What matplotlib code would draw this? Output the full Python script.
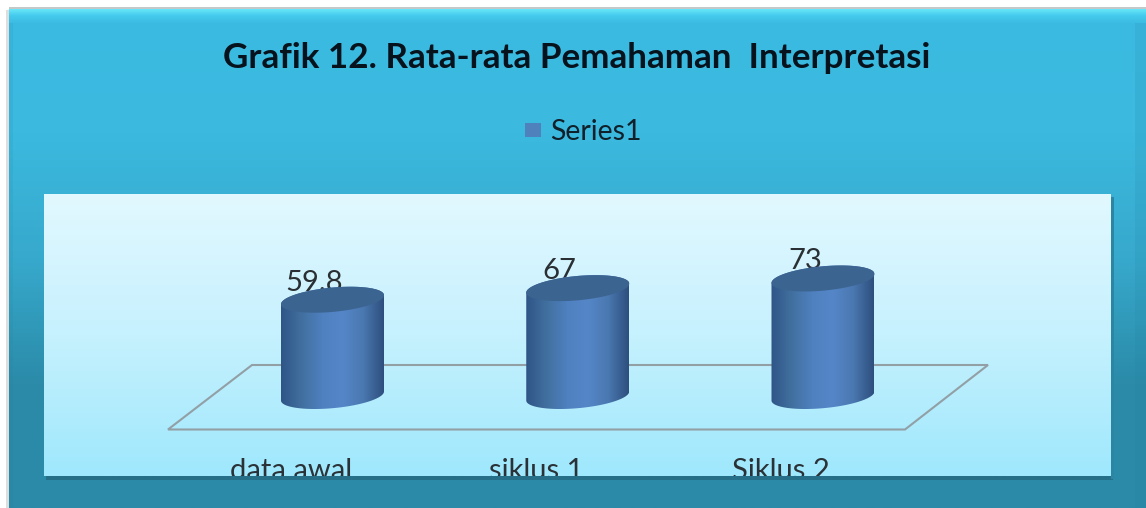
import numpy as np
import matplotlib
matplotlib.use("Agg")
import matplotlib.pyplot as plt
from matplotlib.colors import LinearSegmentedColormap
from matplotlib.patches import Polygon, PathPatch, Rectangle
from matplotlib.path import Path

categories = ['data awal', 'siklus 1', 'Siklus 2']
values = [59.8, 67, 73]
title = 'Grafik 12. Rata-rata Pemahaman  Interpretasi'
series_name = 'Series1'

W, H = 1146, 508
plt.rcParams['font.family'] = ['Lato', 'DejaVu Sans']

fig = plt.figure(figsize=(W / 100, H / 100), dpi=100, facecolor='white')


def vgrad(ax, x0, x1, y0, y1, colors, z):
    # vertical gradient between pixel rows y0 (top) and y1 (bottom)
    cm = LinearSegmentedColormap.from_list('g', colors)
    ax.imshow(np.linspace(0, 1, 256)[:, None], extent=(x0, x1, y1, y0),
              cmap=cm, aspect='auto', zorder=z, interpolation='bilinear')


# background layer, in pixels
bg = fig.add_axes([0, 0, 1, 1])
vgrad(bg, 9, W, 9, H, ['#3cbbe2', '#3bb9df', '#37a9cc', '#2b8ba9', '#2b8aa8'], 1)
# bevels of the frame
vgrad(bg, 9, W, 8, 23, ['#70ecfb', '#45cbee', '#3cbbe2'], 2)
bg.add_patch(Rectangle((9, 23), 4, H, fc='#1f7f9e', ec='none', alpha=0.12, zorder=2))
bg.add_patch(Rectangle((1135, 23), 11, H, fc='#1f7f9e', ec='none', alpha=0.14, zorder=2))
bg.add_patch(Rectangle((6, 10), 3, H, fc='#dedede', ec='none', zorder=1))
bg.add_patch(Rectangle((9, 7), W, 1.5, fc='#c4c8c8', ec='none', zorder=3))
# panel and its shadow
bg.add_patch(Rectangle((46, 476), 1067, 3.5, fc='#256f88', ec='none', zorder=3))
bg.add_patch(Rectangle((1111, 197), 2.5, 282, fc='#2a86a3', ec='none', zorder=3))
vgrad(bg, 44, 1111, 194, 476, ['#e2f8ff', '#c6f1fe', '#9fe8fd'], 4)
# floor of the 3D chart
bg.add_patch(Polygon([(252, 365), (988, 365), (905, 429.5), (168, 429.5)], closed=True,
                     fc='none', ec='#92a0a6', lw=1.5, zorder=5))
bg.set_xlim(0, W)
bg.set_ylim(H, 0)
bg.axis('off')

bg.text(577, 68, title, ha='center', va='baseline', fontsize=25.2, fontweight='bold',
        color='#06121c', zorder=6)
bg.add_patch(Rectangle((525, 123), 16, 14, fc='#4f81bd', ec='none', zorder=6))
bg.text(550, 140, series_name, ha='left', va='baseline', fontsize=20.5, color='#10202a', zorder=6)

# chart layer: x positions are category indexes, y is the value
px_per_cat = 245.25
px_per_val = 1.61
x_first = 332.5
y_base = 396
ax = fig.add_axes([0, 0, 1, 1], facecolor='none')
xlim = (-x_first / px_per_cat, (W - x_first) / px_per_cat)
ylim = ((y_base - H) / px_per_val, y_base / px_per_val)

half_w = 51.5 / px_per_cat
ell_b = 12.2 / px_per_val
ell_s = 4.5 / px_per_val
body_cm = LinearSegmentedColormap.from_list(
    'body', ['#2f5587', '#41709f', '#4f80bf', '#5586c8', '#4a78b0', '#2e4f7e'])
t = np.linspace(0, 2 * np.pi, 121)

for i, (cat, val) in enumerate(zip(categories, values)):
    # side of the cylinder: lower half of the base ellipse, upper half of the top one
    lower = np.linspace(np.pi, 2 * np.pi, 60)
    upper = np.linspace(0, np.pi, 60)
    xs = np.r_[i + half_w * np.cos(lower), i + half_w * np.cos(upper)]
    ys = np.r_[ell_b * np.sin(lower) + ell_s * np.cos(lower),
               val + ell_b * np.sin(upper) + ell_s * np.cos(upper)]
    body = PathPatch(Path(np.c_[xs, ys], closed=False), fc='none', ec='none', transform=ax.transData)
    ax.add_patch(body)
    im = ax.imshow(np.linspace(0, 1, 256)[None, :], extent=(i - half_w, i + half_w, -20, val + 20),
                   cmap=body_cm, aspect='auto', zorder=3, interpolation='bilinear')
    im.set_clip_path(body)
    # top ellipse
    ax.fill(i + half_w * np.cos(t), val + ell_b * np.sin(t) + ell_s * np.cos(t),
            color='#3c6491', lw=0, zorder=4)
    # value label sits behind the top of the cylinder
    ax.annotate(f'{val:g}', (i, val), xytext=(-13, 6.5), textcoords='offset points',
                ha='center', va='baseline', fontsize=21, color='#2a2f33', zorder=2)
    # category label is cut by the lower panel edge
    lab = ax.annotate(cat, (i, 0), xytext=(-30, -60), textcoords='offset points',
                      ha='center', va='baseline', fontsize=21, color='#2a3238', zorder=2,
                      annotation_clip=False)
    lab.set_clip_path(Rectangle((44, 194), 1067, 282, transform=bg.transData))

ax.set_xlim(*xlim)
ax.set_ylim(*ylim)
ax.axis('off')

fig.savefig('out.png', dpi=100)
